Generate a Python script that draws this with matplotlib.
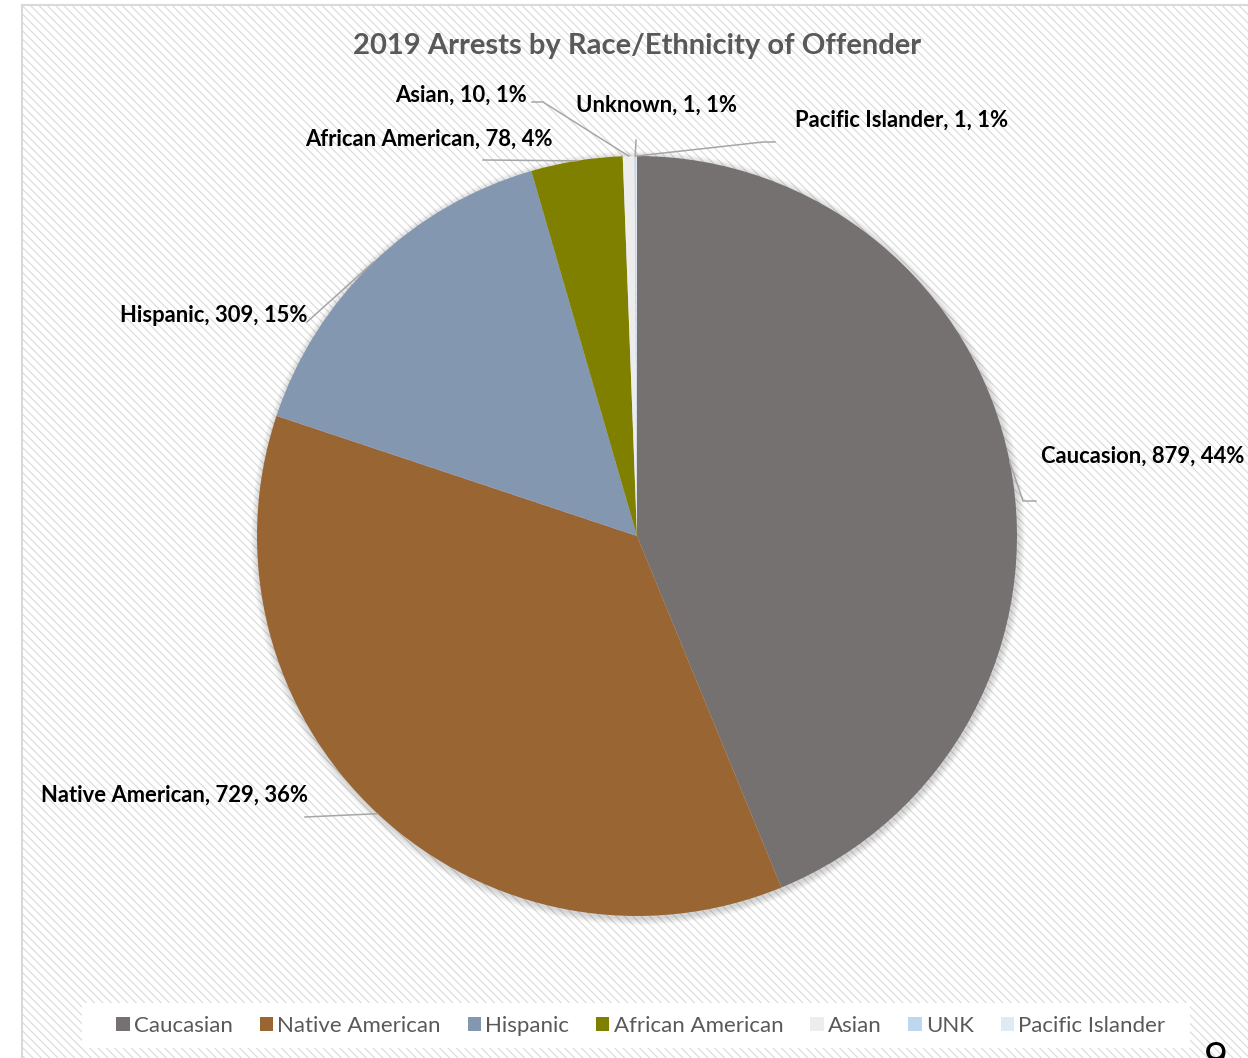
import numpy as np
import matplotlib.pyplot as plt
from matplotlib.patches import Rectangle, Circle

# data
groups = ["Caucasian", "Native American", "Hispanic", "African American",
          "Asian", "UNK", "Pacific Islander"]
label_names = ["Caucasion", "Native American", "Hispanic", "African American",
               "Asian", "Unknown", "Pacific Islander"]
arrests = [879, 729, 309, 78, 10, 1, 1]
pct_labels = ["44%", "36%", "15%", "4%", "1%", "1%", "1%"]
colors = ["#767171", "#996633", "#8497B0", "#808000", "#EDEDED", "#BDD7EE", "#DDEBF7"]

W, H = 1248, 1058
plt.rcParams['font.family'] = ['Lato', 'DejaVu Sans']
plt.rcParams['hatch.linewidth'] = 0.8
plt.rcParams['hatch.color'] = '#F2F2F2'

fig = plt.figure(figsize=(W / 100, H / 100), dpi=100)
ax = fig.add_axes([0, 0, 1, 1])


def py(y):
    # pixel row -> data y
    return H - y


# chart area: hatched background + border
ax.add_patch(Rectangle((22, py(H + 10)), W, H + 5, facecolor='white',
                       edgecolor='#D9D9D9', linewidth=1.5, hatch='\\\\\\\\', zorder=0))

cx, cy, r = 637, py(536), 380

# soft shadow around the pie
for k in range(1, 8):
    ax.add_patch(Circle((cx + 1, cy - 2), r + k, facecolor='#000000',
                        alpha=0.025, edgecolor='none', zorder=1))

wedges, _ = ax.pie(arrests, colors=colors, startangle=90, counterclock=False,
                   center=(cx, cy), radius=r, frame=True,
                   wedgeprops=dict(linewidth=0, zorder=2))
ax.set_xlim(0, W)
ax.set_ylim(0, H)
ax.set_aspect('equal')
ax.axis('off')

# label placement (pixel coords): text position, alignment, leader bend points
label_pos = [
    ((1041, 456), 'left', [(1023, 501), (1036, 501)]),
    ((308, 795), 'right', [(305, 817)]),
    ((307, 315), 'right', [(307, 322)]),
    ((553, 139), 'right', [(483, 160)]),
    ((527, 95), 'right', [(543, 102), (532, 102)]),
    ((656, 105), 'center', [(636, 140)]),
    ((795, 120), 'left', [(763, 142), (775, 142)]),
]

for w, name, n, pc, (tp, ha, pts) in zip(wedges, label_names, arrests, pct_labels, label_pos):
    mid = np.deg2rad((w.theta1 + w.theta2) / 2)
    ax_, ay_ = cx + r * np.cos(mid), cy + r * np.sin(mid)
    xs = [ax_] + [p[0] for p in pts]
    ys = [ay_] + [py(p[1]) for p in pts]
    ax.plot(xs, ys, color='#A6A6A6', linewidth=1.1, zorder=3)
    ax.text(tp[0], py(tp[1]), f"{name}, {n}, {pc}", ha=ha, va='center',
            fontsize=15.8, fontweight='bold', color='black', zorder=4)

ax.text(637, py(46), "2019 Arrests by Race/Ethnicity of Offender", ha='center',
        va='center', fontsize=21, fontweight='bold', color='#595959')

# legend box
ax.add_patch(Rectangle((82, py(1048)), 1108, 45, facecolor='white',
                       edgecolor='none', zorder=3))
fig.legend(wedges, groups, loc='center', bbox_to_anchor=(641 / W, 1 - 1026 / H),
           ncol=7, frameon=False, fontsize=16, handlelength=0.6, handleheight=0.6,
           handletextpad=0.2, columnspacing=1.2, labelcolor='#595959')

# page number peeking in at the bottom right
fig.text(1216 / W, -22 / H, "9", fontsize=30, ha='center', va='bottom', color='black')

fig.savefig("out.png", dpi=100)
